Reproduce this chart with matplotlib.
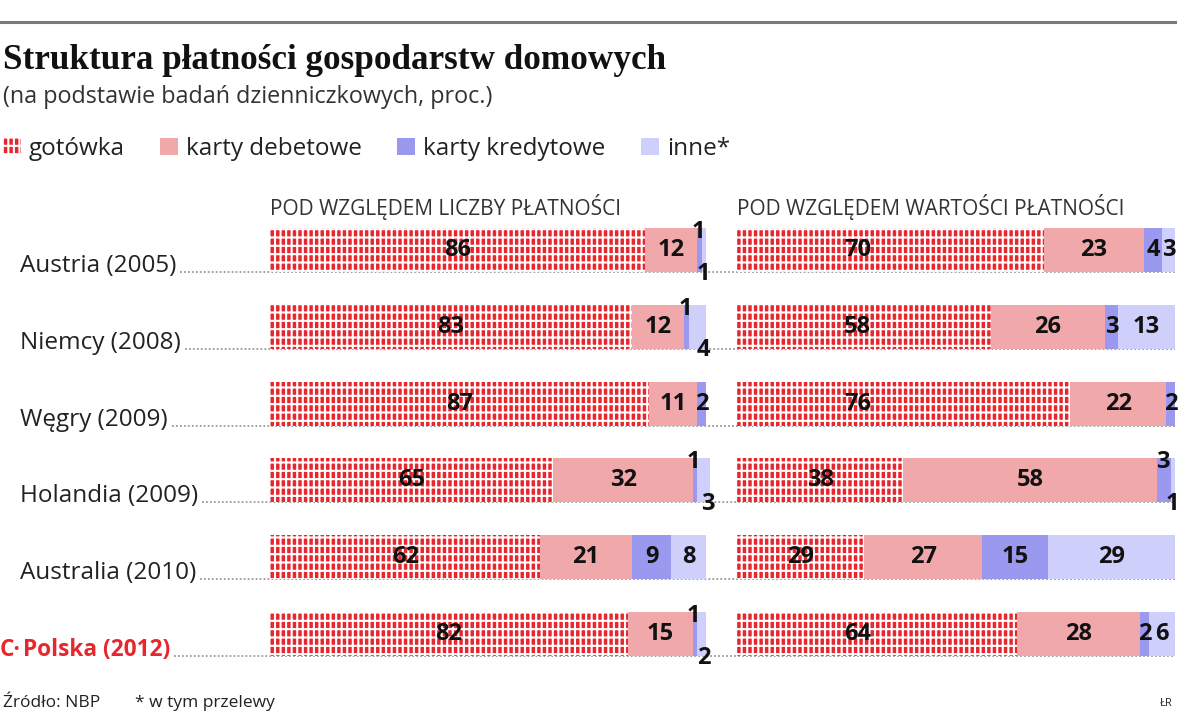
import matplotlib
matplotlib.use('Agg')
import matplotlib.pyplot as plt
from matplotlib.patches import Patch
import numpy as np

# data (percent)
countries = ['Austria (2005)', 'Niemcy (2008)', 'Węgry (2009)',
             'Holandia (2009)', 'Australia (2010)', 'Polska (2012)']
categories = ['gotówka', 'karty debetowe', 'karty kredytowe', 'inne*']
panel_titles = ['POD WZGLĘDEM LICZBY PŁATNOŚCI', 'POD WZGLĘDEM WARTOŚCI PŁATNOŚCI']

count_cash = [86, 83, 87, 65, 62, 82]
count_debit = [12, 12, 11, 32, 21, 15]
count_credit = [1, 1, 2, 1, 9, 1]
count_other = [1, 4, 0, 3, 8, 2]

value_cash = [70, 58, 76, 38, 29, 64]
value_debit = [23, 26, 22, 58, 27, 28]
value_credit = [4, 3, 2, 3, 15, 2]
value_other = [3, 13, 0, 1, 29, 6]

RED = '#e8262d'
PINK = '#f1a8aa'
BLUE = '#9b98f0'
LILAC = '#cfcffb'
colors = [RED, PINK, BLUE, LILAC]
DOT = '#9a9a9a'

plt.rcParams['font.family'] = ['Open Sans', 'DejaVu Sans']
plt.rcParams['hatch.linewidth'] = 1.5

W, H = 1200, 725
fig = plt.figure(figsize=(12, 7.25), dpi=100)
bg = fig.add_axes([0, 0, 1, 1])
bg.set_xlim(0, W)
bg.set_ylim(H, 0)
bg.axis('off')

# panel geometry (pixels)
row_top, row_h = 211.6, 460.8
BAR_H = 0.573
panels = [(270, 436), (737, 438)]
panel_data = [
    [count_cash, count_debit, count_credit, count_other],
    [value_cash, value_debit, value_credit, value_other],
]
cash_cap = [100, 27.5]

axes = []
for (x0, w), data, cap in zip(panels, panel_data, cash_cap):
    ax = fig.add_axes([x0 / W, 1 - (row_top + row_h) / H, w / W, row_h / H])
    ax.set_xlim(0, 100)
    ax.set_ylim(len(countries) - 0.5, -0.5)
    ax.axis('off')
    y = np.arange(len(countries))
    left = np.zeros(len(countries))
    for k, (vals, c) in enumerate(zip(data, colors)):
        vals = np.array(vals, dtype=float)
        if k == 0:
            ax.barh(y, vals, left=left, height=BAR_H, color=c, hatch='++|',
                    edgecolor='white', linewidth=0, clip_on=False)
        else:
            ax.barh(y, vals, left=left, height=BAR_H, color=c,
                    linewidth=0, clip_on=False)
        left += vals

    tkw = dict(fontsize=17, fontweight='bold', color='#111111',
               ha='center', va='center', clip_on=False, zorder=5)
    for i in range(len(countries)):
        cash, debit, credit, other = (d[i] for d in data)
        s_debit = cash
        s_credit = cash + debit
        s_other = cash + debit + credit
        ax.text(min(cash / 2, cap), i, str(cash), **tkw)
        ax.text(s_debit + debit / 2, i, str(debit), **tkw)
        split = credit > 0 and other > 0 and min(credit, other) == 1
        if split:
            ax.text(s_credit + credit / 2 - 0.3, i - BAR_H / 2 + 0.05,
                    str(credit), **tkw)
            ax.text(s_other + other - 0.5, i + BAR_H / 2 + 0.02,
                    str(other), **tkw)
        else:
            if credit:
                ax.text(s_credit + credit / 2, i, str(credit), **tkw)
            if other:
                ax.text(s_other + other / 2, i, str(other), **tkw)
    axes.append(ax)

# panel headings
for (x0, w), t in zip(panels, panel_titles):
    bg.text(x0, 207, t, fontsize=15, color='#333333', ha='left', va='center')

# country labels + dotted leader lines
fig.canvas.draw()
renderer = fig.canvas.get_renderer()
inv = bg.transData.inverted()
for i, name in enumerate(countries):
    # bar bottom in pixel coords of the background axes
    _, yb = inv.transform(axes[0].transData.transform((0, i + BAR_H / 2)))
    if name.startswith('Polska'):
        bg.text(0, yb, 'C·', fontsize=16.3, fontweight='bold', color=RED,
                ha='left', va='baseline')
        t = bg.text(23, yb, name, fontsize=16.3, fontweight='bold', color=RED,
                    ha='left', va='baseline')
    else:
        t = bg.text(20, yb, name, fontsize=17.5, color='#222222',
                    ha='left', va='baseline')
    bb = t.get_window_extent(renderer)
    xe, _ = inv.transform((bb.x1, bb.y0))
    bg.plot([xe + 4, panels[1][0] + panels[1][1]], [yb, yb], color=DOT,
            lw=1.3, ls=(0, (1, 1.2)), zorder=4)

# top rule
bg.plot([0, 1175], [22, 22], color='#7a7a7a', lw=2.2)

# title block
bg.text(3, 60, 'Struktura płatności gospodarstw domowych', fontsize=25.3,
        fontweight='bold', family=['Liberation Serif', 'DejaVu Serif'],
        color='#111111', ha='left', va='center')
bg.text(3, 97, '(na podstawie badań dzienniczkowych, proc.)', fontsize=16.8,
        color='#333333', ha='left', va='center')

# legend
handles = [Patch(facecolor=RED, hatch='++|', edgecolor='white', linewidth=0),
           Patch(facecolor=PINK, linewidth=0),
           Patch(facecolor=BLUE, linewidth=0),
           Patch(facecolor=LILAC, linewidth=0)]
leg = bg.legend(handles, categories, loc='center left',
                bbox_to_anchor=(3 / W, 1 - 149 / H),
                bbox_transform=fig.transFigure, ncol=4, frameon=False,
                fontsize=17.5, handlelength=0.74, handleheight=0.74,
                handletextpad=0.33, columnspacing=1.45, borderaxespad=0,
                borderpad=0)
for txt in leg.get_texts():
    txt.set_color('#222222')

# footer
bg.text(3, 703, 'Źródło: NBP', fontsize=12.5, color='#222222', ha='left', va='center')
bg.text(135, 703, '* w tym przelewy', fontsize=12.5, color='#222222', ha='left', va='center')
bg.text(1160, 703, 'ŁR', fontsize=8, color='#222222', ha='left', va='center')

fig.savefig('out.png', dpi=100)
